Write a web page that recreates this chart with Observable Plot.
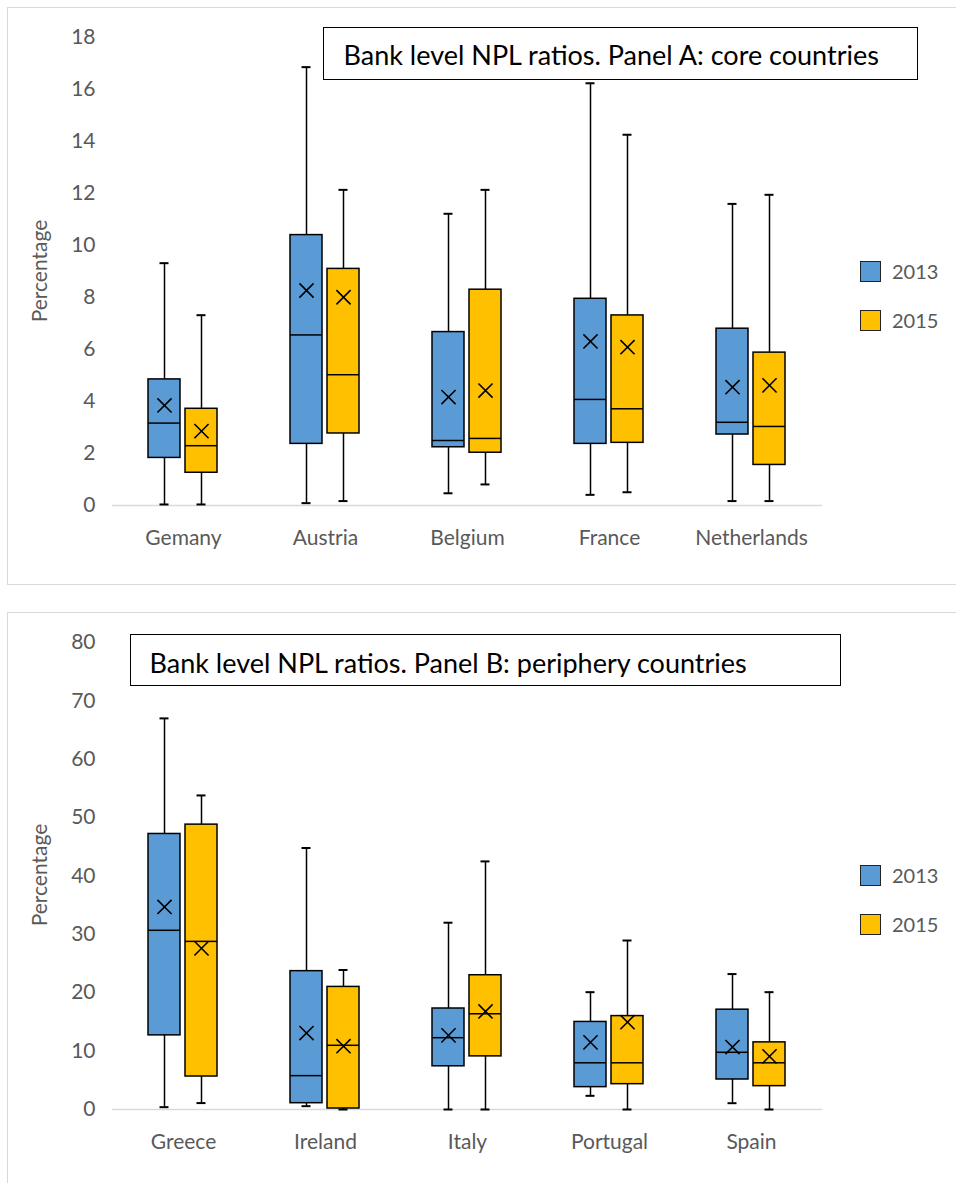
<!DOCTYPE html>
<html><head><meta charset="utf-8">
<script src="https://cdn.jsdelivr.net/npm/d3@7"></script>
<script src="https://cdn.jsdelivr.net/npm/@observablehq/plot@0.6"></script>
<style>
body{margin:0;background:#fff;font-family:Lato,sans-serif;}
#wrap{position:relative;width:956px;height:1183px;overflow:hidden;background:#fff;}
.panel{position:absolute;border:1px solid #d9d9d9;box-sizing:border-box;}
.chart{position:absolute;left:0;}
.title{position:absolute;border:1.5px solid #000;background:#fff;color:#000;box-sizing:border-box;font-size:27px;line-height:1;white-space:nowrap;}
.title .clip{overflow:hidden;}
.legend{position:absolute;left:860px;font-size:20px;color:#595959;}
.legend .item{position:absolute;left:0;height:20px;white-space:nowrap;}
.legend .sw{position:absolute;left:0;top:0;width:21px;height:21px;border:1.5px solid #222;box-sizing:border-box;}
.legend .lab{position:absolute;left:32px;top:-2px;line-height:24px;}
.ylab{position:absolute;font-size:21px;color:#595959;white-space:nowrap;transform:translate(-50%,-50%) rotate(-90deg);}
</style>
</head><body>
<div id="wrap"></div>
<script>
const years = ["2013", "2015"];
const yearColors = ["#5B9BD5", "#FFC000"];
const yLabel = "Percentage";

// Panel A: core countries
const coreTitle = "Bank level NPL ratios. Panel A: core countries";
const coreCountries = ["Gemany", "Austria", "Belgium", "France", "Netherlands"];
const coreMin2013    = [0.04, 0.09, 0.47, 0.41, 0.17];
const coreQ1_2013    = [1.83, 2.37, 2.24, 2.37, 2.73];
const coreMedian2013 = [3.17, 6.56, 2.50, 4.08, 3.20];
const coreQ3_2013    = [4.85, 10.40, 6.67, 7.95, 6.80];
const coreMax2013    = [9.32, 16.86, 11.22, 16.24, 11.60];
const coreMean2013   = [3.85, 8.27, 4.17, 6.31, 4.55];
const coreMin2015    = [0.04, 0.17, 0.81, 0.51, 0.17];
const coreQ1_2015    = [1.26, 2.77, 2.03, 2.41, 1.56];
const coreMedian2015 = [2.30, 5.03, 2.58, 3.72, 3.04];
const coreQ3_2015    = [3.72, 9.10, 8.30, 7.31, 5.88];
const coreMax2015    = [7.32, 12.14, 12.14, 14.26, 11.95];
const coreMean2015   = [2.86, 8.01, 4.42, 6.09, 4.62];
const coreTicks = [0, 2, 4, 6, 8, 10, 12, 14, 16, 18];

// Panel B: periphery countries
const perTitle = "Bank level NPL ratios. Panel B: periphery countries";
const perCountries = ["Greece", "Ireland", "Italy", "Portugal", "Spain"];
const perMin2013    = [0.4, 0.57, 0, 2.34, 1.08];
const perQ1_2013    = [12.7, 1.08, 7.4, 3.83, 5.14];
const perMedian2013 = [30.7, 5.8, 12.3, 8.0, 9.8];
const perQ3_2013    = [47.2, 23.7, 17.3, 15.0, 17.1];
const perMax2013    = [67.0, 44.8, 32.0, 20.1, 23.2];
const perMean2013   = [34.7, 13.1, 12.7, 11.5, 10.7];
const perMin2015    = [1.1, 0, 0, 0, 0];
const perQ1_2015    = [5.65, 0.17, 9.1, 4.34, 4.0];
const perMedian2015 = [28.8, 11.0, 16.4, 8.0, 8.0];
const perQ3_2015    = [48.8, 21.0, 23.0, 16.0, 11.5];
const perMax2015    = [53.8, 23.9, 42.5, 28.95, 20.1];
const perMean2015   = [27.6, 10.85, 16.8, 14.96, 9.1];
const perTicks = [0, 10, 20, 30, 40, 50, 60, 70, 80];

function rowsFrom(countries, s13, s15) {
  const rows = [];
  countries.forEach((c, i) => {
    [s13, s15].forEach((s, k) => rows.push({
      country: c, year: years[k],
      min: s[0][i], q1: s[1][i], median: s[2][i], q3: s[3][i], max: s[4][i], mean: s[5][i]
    }));
  });
  return rows;
}

function boxChart(countries, rows, ticks, height, marginTop, marginBottom) {
  const common = {fx: "country", x: "year"};
  return Plot.plot({
    width: 956, height, marginLeft: 110, marginRight: 132, marginTop, marginBottom,
    style: {fontFamily: "Lato, sans-serif", background: "transparent"},
    fx: {domain: countries, padding: 0},
    x: {domain: years, paddingInner: 0.13, paddingOuter: 0.944, axis: null},
    y: {domain: [0, ticks[ticks.length - 1]]},
    color: {domain: years, range: yearColors},
    marks: [
      Plot.axisY({ticks, tickSize: 0, tickPadding: 17, line: true, stroke: "#d9d9d9", fill: "#595959",
        fontSize: 21, label: null}),
      Plot.axisFx({anchor: "bottom", tickSize: 0, tickPadding: 25, fill: "#595959", fontSize: 21, label: null}),
      Plot.ruleY([0], {stroke: "#d9d9d9", strokeWidth: 1.5}),
      Plot.ruleX(rows, {...common, y1: "min", y2: "max", stroke: "#000", strokeWidth: 1.5}),
      Plot.tickY(rows, {...common, y: "min", insetLeft: 11.5, insetRight: 11.5, stroke: "#000", strokeWidth: 2}),
      Plot.tickY(rows, {...common, y: "max", insetLeft: 11.5, insetRight: 11.5, stroke: "#000", strokeWidth: 2}),
      Plot.barY(rows, {...common, y1: "q1", y2: "q3", fill: "year", stroke: "#000", strokeWidth: 1.5}),
      Plot.tickY(rows, {...common, y: "median", stroke: "#000", strokeWidth: 1.5}),
      Plot.dot(rows, {...common, y: "mean", symbol: "times", r: 6.5, stroke: "#000", strokeWidth: 1.6})
    ]
  });
}

function legend(top) {
  const lg = document.createElement("div");
  lg.className = "legend";
  lg.style.top = top + "px";
  years.forEach((y, i) => {
    const it = document.createElement("div");
    it.className = "item";
    it.style.top = (i * 49) + "px";
    it.innerHTML = `<div class="sw" style="background:${yearColors[i]}"></div><span class="lab">${y}</span>`;
    lg.appendChild(it);
  });
  return lg;
}

function yTitle(cy) {
  const d = document.createElement("div");
  d.className = "ylab";
  d.style.left = "38px";
  d.style.top = cy + "px";
  d.textContent = yLabel;
  return d;
}

const wrap = document.getElementById("wrap");

// Panel A
const pA = document.createElement("div");
pA.className = "panel";
Object.assign(pA.style, {left: "7px", top: "7px", width: "960px", height: "578px"});
wrap.appendChild(pA);
const cA = boxChart(coreCountries,
  rowsFrom(coreCountries,
    [coreMin2013, coreQ1_2013, coreMedian2013, coreQ3_2013, coreMax2013, coreMean2013],
    [coreMin2015, coreQ1_2015, coreMedian2015, coreQ3_2015, coreMax2015, coreMean2015]),
  coreTicks, 585, 37, 80);
cA.classList.add("chart"); cA.style.top = "0px";
wrap.appendChild(cA);
wrap.appendChild(yTitle(271));
const tA = document.createElement("div");
tA.className = "title";
Object.assign(tA.style, {left: "323px", top: "27px", width: "595px", height: "53px", paddingLeft: "19.5px", paddingTop: "13px"});
tA.textContent = coreTitle;
wrap.appendChild(tA);
wrap.appendChild(legend(261));

// Panel B
const pB = document.createElement("div");
pB.className = "panel";
Object.assign(pB.style, {left: "7px", top: "612px", width: "960px", height: "600px"});
wrap.appendChild(pB);
const cB = boxChart(perCountries,
  rowsFrom(perCountries,
    [perMin2013, perQ1_2013, perMedian2013, perQ3_2013, perMax2013, perMean2013],
    [perMin2015, perQ1_2015, perMedian2015, perQ3_2015, perMax2015, perMean2015]),
  perTicks, 583, 42, 74);
cB.classList.add("chart"); cB.style.top = "600px";
wrap.appendChild(cB);
wrap.appendChild(yTitle(875));
const tB = document.createElement("div");
tB.className = "title";
Object.assign(tB.style, {left: "130px", top: "634px", width: "711px", height: "52px", paddingLeft: "18.5px"});
tB.innerHTML = `<div class="clip" style="height:42px;padding-top:14px;box-sizing:border-box;">${perTitle}</div>`;
wrap.appendChild(tB);
wrap.appendChild(legend(865));
</script>
</body></html>
